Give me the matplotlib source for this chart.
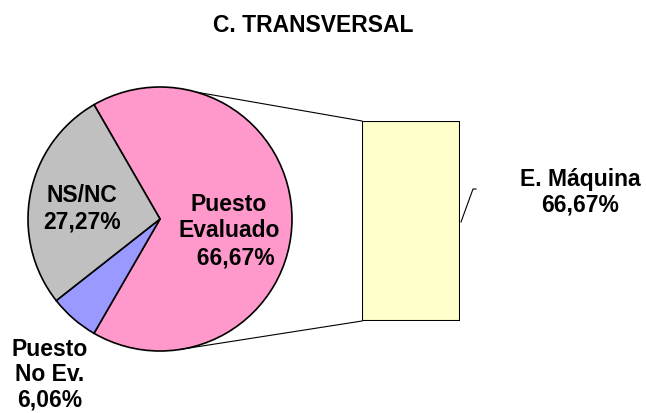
import numpy as np
import matplotlib.pyplot as plt

# pie data
labels = ['Puesto\nEvaluado', 'Puesto\nNo Ev.', 'NS/NC']
values = [66.67, 6.06, 27.27]
colors = ['#FF99CC', '#9999FF', '#C0C0C0']

# bar-of-pie data (split of "Puesto Evaluado")
bar_labels = ['E. Máquina']
bar_values = [66.67]
bar_colors = ['#FFFFCC']

W, H = 646, 414
plt.rcParams['font.family'] = ['Liberation Sans', 'DejaVu Sans']

fig = plt.figure(figsize=(W / 100, H / 100), dpi=100)
ax = fig.add_axes([0, 0, 1, 1])

# pie geometry in pixel units (y up)
cx, cy, r = 160, 194, 132
ax.pie(values, colors=colors, startangle=120, counterclock=False,
       center=(cx, cy), radius=r,
       wedgeprops=dict(edgecolor='black', linewidth=1.2))
ax.set_xlim(0, W)
ax.set_ylim(0, H)
ax.set_aspect('equal')
ax.axis('off')


def fmt(v):
    return f"{v:.2f}".replace('.', ',') + '%'


fs = 16.5
ax.text(229, 183, labels[0] + '\n  ' + fmt(values[0]), ha='center', va='center',
        fontsize=fs, fontweight='bold', linespacing=1.2)
ax.text(82, 205, labels[2] + '\n' + fmt(values[2]), ha='center', va='center',
        fontsize=fs, fontweight='bold', linespacing=1.2)
ax.text(50, 39, labels[1] + '\n' + fmt(values[1]), ha='center', va='center',
        fontsize=fs, fontweight='bold', linespacing=1.12)

# bar axes
bx0, bx1, by0, by1 = 362, 460, 92, 292
ax2 = fig.add_axes([bx0 / W, by0 / H, (bx1 - bx0) / W, (by1 - by0) / H])
ax2.bar([0], bar_values, width=1, color=bar_colors, edgecolor='black', linewidth=1.5)
ax2.set_xlim(-0.5, 0.5)
ax2.set_ylim(0, sum(bar_values))
ax2.axis('off')

# connector lines from pie to bar
a_top, a_bot = np.radians(74), np.radians(-81)
ax.plot([cx + r * np.cos(a_top), bx0], [cy + r * np.sin(a_top), by1], color='black', lw=0.8)
ax.plot([cx + r * np.cos(a_bot), bx0], [cy + r * np.sin(a_bot), by0], color='black', lw=0.8)

# bar label with leader line
ax.plot([461, 473, 476], [191, 224, 224], color='black', lw=0.8)
ax.text(580, 222, bar_labels[0] + '\n' + fmt(bar_values[0]), ha='center', va='center',
        fontsize=fs, fontweight='bold', linespacing=1.15)

ax.text(313, 389, 'C. TRANSVERSAL', ha='center', va='center', fontsize=16.5, fontweight='bold')

fig.savefig('out.png', dpi=100)
